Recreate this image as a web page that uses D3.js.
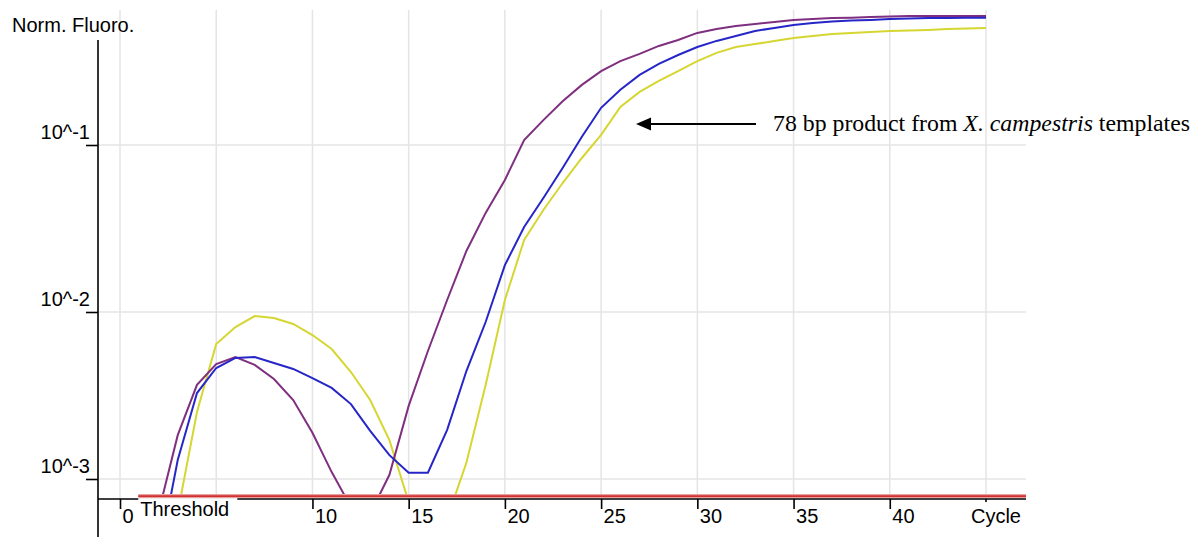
<!DOCTYPE html>
<html><head><meta charset="utf-8">
<script src="https://cdn.jsdelivr.net/npm/d3@7"></script>
<style>
html,body{margin:0;padding:0;background:#fff;}
svg{display:block;}
</style></head><body>
<svg id="chart" width="1197" height="537"></svg>
<script>
// ---- data ----
const cycles = d3.range(1, 46);
const purpleSeries = [0.0005,0.00063,0.00183,0.00366,0.00488,0.00538,0.00482,0.00397,0.00297,0.00189,
  0.00110,0.00068,0.00062,0.00106,0.00274,0.00584,0.0118,0.0232,0.0392,0.0617,
  0.107,0.141,0.183,0.229,0.277,0.318,0.351,0.392,0.425,0.469,
  0.495,0.516,0.530,0.545,0.561,0.568,0.576,0.579,0.584,0.588,
  0.592,0.592,0.592,0.592,0.592];
const blueSeries = [0.0003,0.00033,0.00130,0.00327,0.00462,0.00531,0.00538,0.00495,0.00456,0.00402,
  0.00351,0.00281,0.00194,0.00139,0.00109,0.00109,0.00197,0.00443,0.00871,0.0191,
  0.0323,0.0482,0.0728,0.112,0.167,0.214,0.263,0.306,0.346,0.386,
  0.420,0.450,0.482,0.502,0.523,0.538,0.549,0.557,0.561,0.568,
  0.572,0.576,0.576,0.579,0.579];
const yellowSeries = [0.0004,0.0004,0.00063,0.00252,0.00643,0.00813,0.00946,0.00921,0.00848,0.00728,
  0.00600,0.00437,0.00297,0.00171,0.00073,0.0005,0.00058,0.00125,0.00366,0.0118,
  0.0270,0.0408,0.0592,0.0836,0.115,0.169,0.208,0.242,0.277,0.318,
  0.356,0.386,0.402,0.420,0.437,0.450,0.462,0.469,0.475,0.482,
  0.485,0.489,0.495,0.499,0.502];
const xTicks = [0,10,15,20,25,30,35,40];
const xEndTick = 45;
const xEndLabel = "Cycle";
const yTicks = [1e-3, 1e-2, 1e-1];
const yTickLabels = ["10^-3", "10^-2", "10^-1"];
const gridX = [0,5,10,15,20,25,30,35,40,45];
const thresholdValue = 0.00079;
const thresholdStart = 0.95;
const yAxisTitle = "Norm. Fluoro.";
const thresholdLabel = "Threshold";
const annotation = ["78 bp product from ", "X. campestris", " templates"];

// ---- layout ----
const svg = d3.select("#chart");
const axisX = 98, plotRight = 1026, plotTopGrid = 10, axisTop = 40, axisY = 499;
const x = d3.scaleLinear().domain([0, 45]).range([120, 986]);
const y = d3.scaleLog().domain([1e-3, 1e-1]).range([479, 145]);
const font = "'Liberation Sans', Arial, sans-serif";

// grid
const grid = svg.append("g").attr("stroke", "#e4e4e4").attr("stroke-width", 1.5);
grid.selectAll("line.v").data(gridX).join("line").attr("class","v")
  .attr("x1", d => x(d)).attr("x2", d => x(d))
  .attr("y1", plotTopGrid).attr("y2", axisY);
grid.selectAll("line.h").data(yTicks).join("line").attr("class","h")
  .attr("x1", axisX).attr("x2", plotRight)
  .attr("y1", d => y(d)).attr("y2", d => y(d));

// curves
svg.append("clipPath").attr("id","clip").append("rect")
  .attr("x", axisX).attr("y", 0).attr("width", plotRight - axisX).attr("height", y(thresholdValue) + 1);
const line = d3.line().x((d,i) => x(cycles[i])).y(d => y(d));
const series = [
  {vals: yellowSeries, color: "#d6d632"},
  {vals: purpleSeries, color: "#7f2f80"},
  {vals: blueSeries, color: "#2626c8"}
];
const cg = svg.append("g").attr("clip-path", "url(#clip)");
cg.selectAll("path").data(series).join("path")
  .attr("d", d => line(d.vals))
  .attr("fill", "none").attr("stroke", d => d.color).attr("stroke-width", 2);

// x axis
svg.append("line").attr("x1", axisX).attr("x2", plotRight).attr("y1", axisY).attr("y2", axisY)
  .attr("stroke", "#000").attr("stroke-width", 1.6);
const xa = svg.append("g").attr("transform", `translate(0,${axisY})`)
  .call(d3.axisBottom(x).tickValues(xTicks).tickSize(10).tickFormat(d3.format("d")));
xa.select(".domain").remove();
xa.selectAll(".tick line").attr("stroke", "#000").attr("stroke-width", 1.6);
xa.selectAll(".tick text").attr("text-anchor", "start").attr("x", 2).attr("y", 24).attr("dy", null)
  .attr("fill", "#000").style("font", `20px ${font}`);
svg.append("line").attr("x1", x(xEndTick)).attr("x2", x(xEndTick)).attr("y1", axisY).attr("y2", axisY + 3)
  .attr("stroke", "#000").attr("stroke-width", 1.6);
svg.append("text").attr("x", 1021).attr("y", axisY + 24).attr("text-anchor", "end")
  .style("font", `20px ${font}`).text(xEndLabel);

// y axis
svg.append("line").attr("x1", axisX).attr("x2", axisX).attr("y1", axisTop).attr("y2", 537)
  .attr("stroke", "#000").attr("stroke-width", 1.6);
const ya = svg.append("g").attr("transform", `translate(${axisX},0)`)
  .call(d3.axisLeft(y).tickValues(yTicks).tickSize(12).tickFormat((d,i) => yTickLabels[i]));
ya.select(".domain").remove();
ya.selectAll(".tick line").attr("stroke", "#000").attr("stroke-width", 1.6);
ya.selectAll(".tick text").attr("x", -8).attr("y", -7).attr("dy", null)
  .attr("fill", "#000").style("font", `20px ${font}`);
svg.append("text").attr("x", 12).attr("y", 32).style("font", `20px ${font}`).text(yAxisTitle);

// threshold
const ty = y(thresholdValue);
svg.append("line").attr("x1", x(thresholdStart)).attr("x2", plotRight).attr("y1", ty).attr("y2", ty)
  .attr("stroke", "#eaa0a0").attr("stroke-width", 4);
svg.append("line").attr("x1", x(thresholdStart)).attr("x2", plotRight).attr("y1", ty).attr("y2", ty)
  .attr("stroke", "#d03030").attr("stroke-width", 1.8);
svg.append("rect").attr("x", x(thresholdStart)).attr("y", ty + 2).attr("width", 99).attr("height", 30).attr("fill", "#fff");
svg.append("text").attr("x", x(thresholdStart) + 2).attr("y", axisY + 17).style("font", `20px ${font}`).text(thresholdLabel);

// annotation
const ay = 124;
svg.append("line").attr("x1", 648).attr("x2", 756).attr("y1", ay).attr("y2", ay).attr("stroke", "#000").attr("stroke-width", 2);
svg.append("path").attr("d", `M636,${ay} L651,${ay-6.5} L651,${ay+6.5} Z`).attr("fill", "#000");
const at = svg.append("text").attr("x", 773).attr("y", 131)
  .style("font", `23.8px 'Liberation Serif', 'Times New Roman', serif`).attr("fill", "#000");
at.append("tspan").text(annotation[0]);
at.append("tspan").style("font-style", "italic").text(annotation[1]);
at.append("tspan").text(annotation[2]);
</script>
</body></html>
